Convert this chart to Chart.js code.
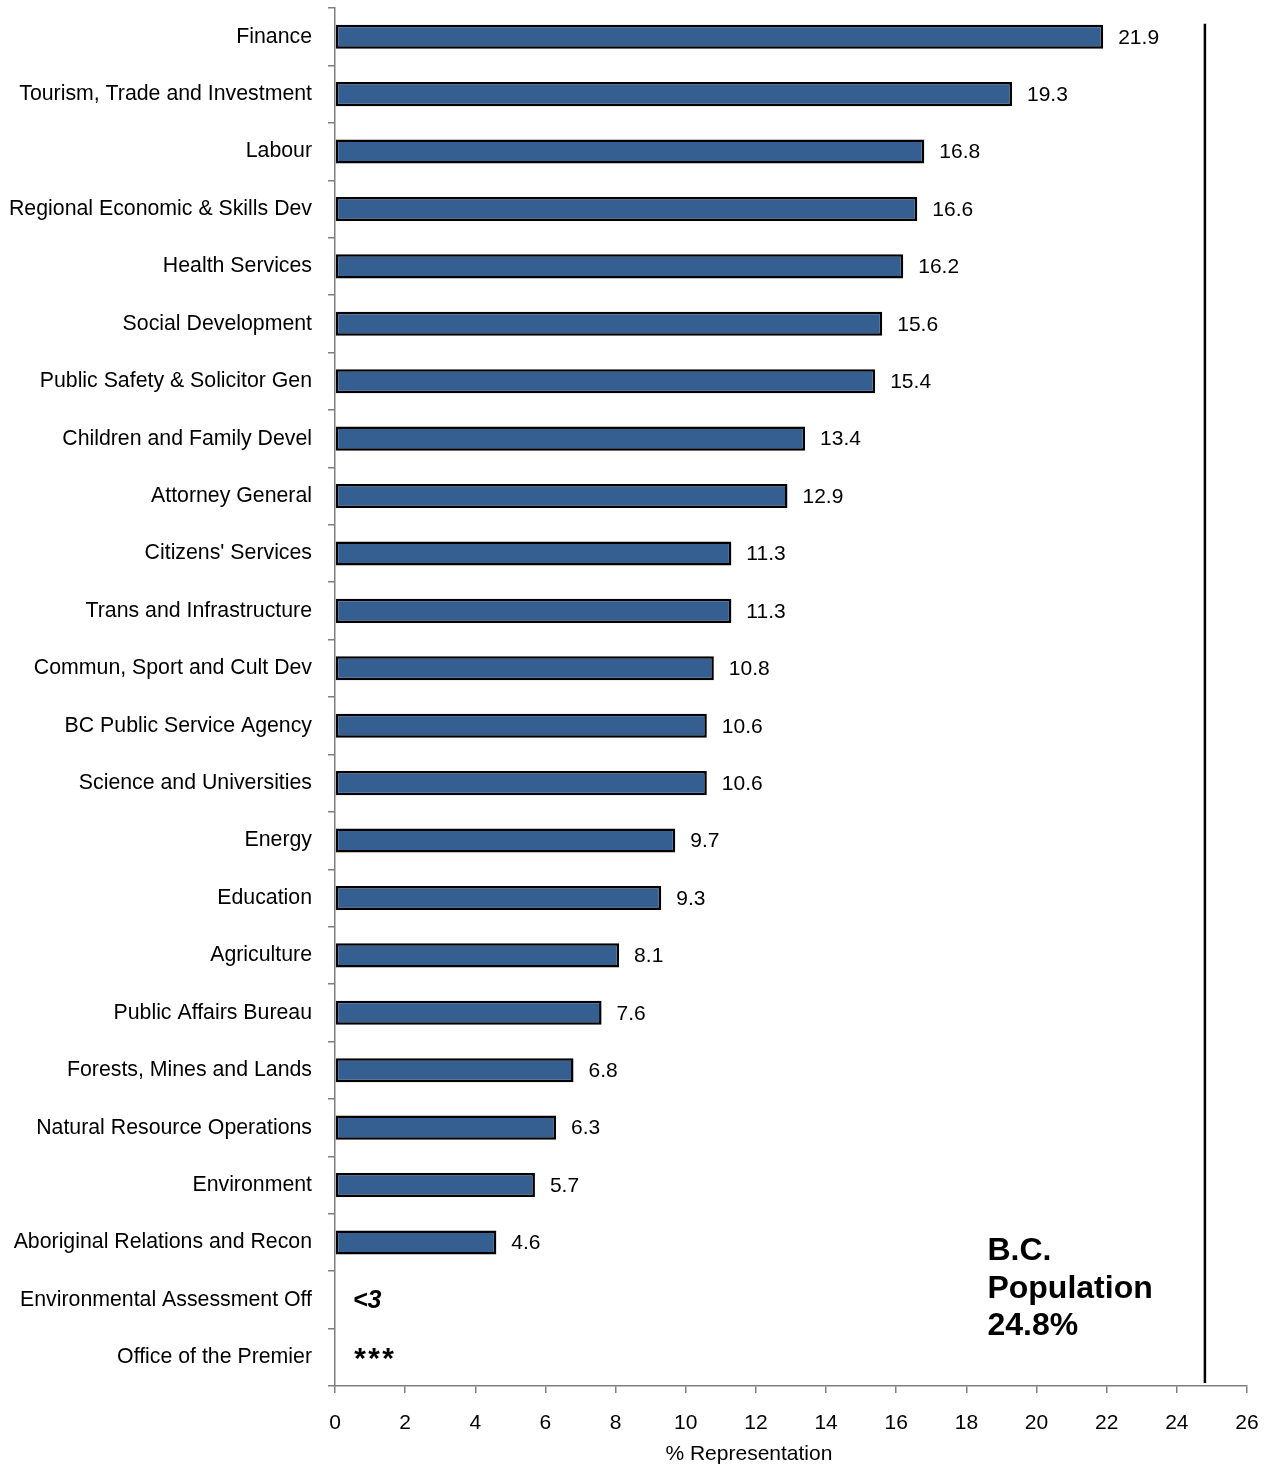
<!DOCTYPE html>
<html>
<head>
<meta charset="utf-8">
<script src="https://cdn.jsdelivr.net/npm/chart.js@4.4.0/dist/chart.umd.min.js"></script>
<style>
  body { margin: 0; background: #fff; }
  canvas { display: block; }
</style>
</head>
<body>
<canvas id="chart" width="1269" height="1466"></canvas>
<script>
const categories = [
  'Finance', 'Tourism, Trade and Investment', 'Labour', 'Regional Economic & Skills Dev',
  'Health Services', 'Social Development', 'Public Safety & Solicitor Gen', 'Children and Family Devel',
  'Attorney General', "Citizens' Services", 'Trans and Infrastructure', 'Commun, Sport and Cult Dev',
  'BC Public Service Agency', 'Science and Universities', 'Energy', 'Education',
  'Agriculture', 'Public Affairs Bureau', 'Forests, Mines and Lands', 'Natural Resource Operations',
  'Environment', 'Aboriginal Relations and Recon', 'Environmental Assessment Off', 'Office of the Premier'
];
const representation = [
  21.9, 19.3, 16.8, 16.6, 16.2, 15.6, 15.4, 13.4, 12.9, 11.3, 11.3, 10.8,
  10.6, 10.6, 9.7, 9.3, 8.1, 7.6, 6.8, 6.3, 5.7, 4.6, null, null
];
// text shown instead of a bar where the value is suppressed
const suppressedNotes = [
  '', '', '', '', '', '', '', '', '', '', '', '',
  '', '', '', '', '', '', '', '', '', '', '<3', '***'
];
const xTicks = [0, 26, 2];  // min, max, step
const populationValue = 24.8;
const populationLabel = ['B.C.', 'Population', '24.8%'];
const xTitle = '% Representation';

const FONT = "'Liberation Sans', Arial, sans-serif";
Chart.defaults.font.family = FONT;
Chart.defaults.color = '#000';

const annotations = {
  id: 'annotations',
  afterDatasetsDraw(chart) {
    const ctx = chart.ctx;
    const x = chart.scales.x, y = chart.scales.y;
    const meta = chart.getDatasetMeta(0);
    ctx.save();
    // value labels
    ctx.font = '21px ' + FONT;
    ctx.fillStyle = '#000';
    ctx.textBaseline = 'middle';
    ctx.textAlign = 'left';
    meta.data.forEach((bar, i) => {
      const v = representation[i];
      if (v == null) return;
      ctx.fillText(v.toFixed(1), bar.x + 15, bar.y + 1);
    });
    // suppressed notes
    suppressedNotes.forEach((t, i) => {
      if (!t) return;
      let cx = x.getPixelForValue(0) + 18;
      const cy = y.getPixelForValue(i) + 1;
      if (t.startsWith('*')) {
        ctx.font = 'italic bold 30px ' + FONT;
        for (const ch of t) { ctx.fillText(ch, cx, cy + 1); cx += 14; }
      } else {
        ctx.font = 'italic bold 25px ' + FONT;
        ctx.fillText(t, cx, cy);
      }
    });
    // population reference line
    const px = x.getPixelForValue(populationValue);
    const halfBar = meta.data[0].height / 2;
    ctx.strokeStyle = '#000';
    ctx.lineWidth = 2.5;
    ctx.beginPath();
    ctx.moveTo(px, y.getPixelForValue(0) - halfBar - 1);
    ctx.lineTo(px, chart.chartArea.bottom - 3);
    ctx.stroke();
    // population text
    ctx.font = 'bold 32px ' + FONT;
    const tx = x.getPixelForValue(18.6);
    const ty = y.getPixelForValue(categories.length - 3) + 9;
    populationLabel.forEach((line, k) => {
      ctx.fillText(line, tx, ty + k * 37.5);
    });
    // axis title
    ctx.font = '21px ' + FONT;
    ctx.textAlign = 'center';
    ctx.fillText(xTitle, x.getPixelForValue(11.8), chart.height - 12);
    ctx.restore();
  }
};

new Chart(document.getElementById('chart'), {
  type: 'bar',
  data: {
    labels: categories,
    datasets: [{
      data: representation,
      backgroundColor: '#365F91',
      borderColor: '#000',
      borderWidth: 2.5,
      borderSkipped: false,
      barPercentage: 0.42,
      categoryPercentage: 1
    }]
  },
  options: {
    indexAxis: 'y',
    responsive: false,
    animation: false,
    layout: { padding: { top: 8, right: 22, bottom: 0, left: 0 } },
    plugins: { legend: { display: false }, tooltip: { enabled: false } },
    scales: {
      x: {
        min: xTicks[0],
        max: xTicks[1],
        afterFit(scale) { scale.height = 80; scale.paddingRight = 0; scale.paddingLeft = 0; },
        ticks: { stepSize: xTicks[2], font: { size: 21 }, padding: 18, color: '#000', maxRotation: 0 },
        grid: { drawOnChartArea: false, tickLength: 7, color: '#7f7f7f', lineWidth: 1.5 },
        border: { color: '#7f7f7f', width: 1.5 }
      },
      y: {
        afterFit(scale) { scale.width = 335; scale.paddingTop = 0; scale.paddingBottom = 0; },
        ticks: { font: { size: 21.3 }, padding: 16, color: '#000', autoSkip: false },
        grid: { drawOnChartArea: false, tickLength: 7, color: '#7f7f7f', lineWidth: 1.5, offset: true },
        border: { color: '#7f7f7f', width: 1.5 }
      }
    }
  },
  plugins: [annotations]
});
</script>
</body>
</html>
